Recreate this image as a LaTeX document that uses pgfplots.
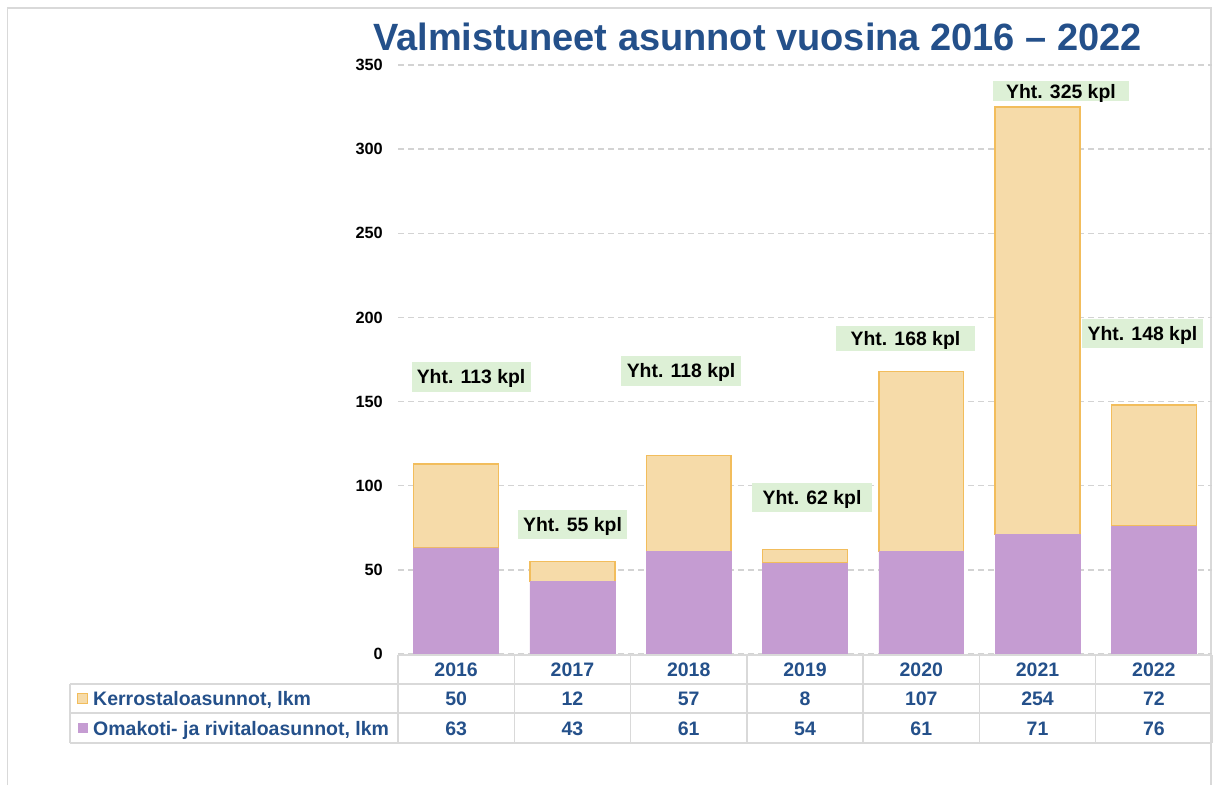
\documentclass[border=0pt]{standalone}
\usepackage{pgfplots}
\pgfplotsset{compat=1.18}
\usepackage{fontspec}
\setmainfont{Liberation Sans}
\definecolor{tblue}{HTML}{24508A}
\definecolor{purp}{HTML}{C59CD2}
\definecolor{tanf}{HTML}{F6DBA9}
\definecolor{orangeb}{HTML}{F2BD5C}
\definecolor{lgreen}{HTML}{DDF0D6}
\definecolor{gridgray}{HTML}{D3D3D3}
\definecolor{framegray}{HTML}{D9D9D9}
\begin{document}
\begin{tikzpicture}[x=1pt,y=1pt,
  lab/.style={fill=lgreen, inner sep=0pt, text height=13.9pt, text depth=0pt,
    font=\fontsize{19.4}{22}\selectfont\bfseries, text=black}]
\useasboundingbox (0,0) rectangle (1216,785);
% outer frame
\draw[framegray, line width=1.5pt] (7.5,0) -- (7.5,777) -- (1211,777) -- (1211,0);
% title
\node[anchor=base, text=tblue, font=\fontsize{38}{44}\selectfont\bfseries] at (757.5,734.4)
  {Valmistuneet asunnot vuosina 2016 – 2022};
\begin{axis}[
  at={(398pt,131pt)}, anchor=south west,
  scale only axis, width=814pt, height=589pt,
  xmin=-0.5, xmax=6.5, ymin=0, ymax=350,
  ybar stacked, bar width=0.73,
  axis line style={draw=none},
  major tick length=0pt,
  xtick={0,...,6},
  xticklabels={{2016\\50\\63},{2017\\12\\43},{2018\\57\\61},{2019\\8\\54},{2020\\107\\61},{2021\\254\\71},{2022\\72\\76}},
  ytick={0,50,...,350},
  ymajorgrids,
  grid style={gridgray, dash pattern=on 6pt off 4pt, line width=1.3pt},
  /pgf/number format/assume math mode=true,
  yticklabel style={font=\fontsize{16.3}{18}\selectfont\bfseries, text=black, anchor=east, inner sep=0pt, xshift=-15pt},
  xticklabel style={font=\fontsize{19.5}{29.3}\selectfont\bfseries, text=tblue, align=center, anchor=north, inner sep=0pt, yshift=-8.6pt},
  clip=false,
]
\addplot[fill=purp, draw=purp, line width=0.5pt] coordinates {(0,63) (1,43) (2,61) (3,54) (4,61) (5,71) (6,76)};
\addplot[fill=tanf, draw=orangeb, line width=1.5pt] coordinates {(0,50) (1,12) (2,57) (3,8) (4,107) (5,254) (6,72)};
\node[lab, minimum width=119pt, minimum height=30pt] at (axis cs:0.128,164.6) {Yht. 113 kpl};
\node[lab, minimum width=109pt, minimum height=29pt] at (axis cs:1.001,76.9) {Yht. 55 kpl};
\node[lab, minimum width=120pt, minimum height=30pt] at (axis cs:1.934,168.2) {Yht. 118 kpl};
\node[lab, minimum width=120pt, minimum height=29pt] at (axis cs:3.060,93.0) {Yht. 62 kpl};
\node[lab, minimum width=139pt, minimum height=25pt] at (axis cs:3.864,187.5) {Yht. 168 kpl};
\node[lab, minimum width=136pt, minimum height=20pt] at (axis cs:5.201,334.5) {Yht. 325 kpl};
\node[lab, minimum width=121pt, minimum height=29pt] at (axis cs:5.902,190.4) {Yht. 148 kpl};
\end{axis}
% data table grid
\begin{scope}[framegray, line width=1.5pt]
\draw (398,130) -- (1212,130);
\draw (70,101) -- (1212,101);
\draw (70,72) -- (1212,72);
\draw (70,42) -- (1212,42);
\draw (70,101) -- (70,42);
\foreach \k in {0,...,7} { \draw ({398+116.286*\k},130) -- ({398+116.286*\k},42); }
\end{scope}
% legend
\draw[orangeb, fill=tanf, line width=1pt] (77.5,81.5) rectangle (87.5,91.5);
\fill[purp] (78,52) rectangle (88,62);
\node[anchor=base west, inner sep=0pt, text=tblue, font=\fontsize{19.5}{22}\selectfont\bfseries] at (93,79.5) {Kerrostaloasunnot, lkm};
\node[anchor=base west, inner sep=0pt, text=tblue, font=\fontsize{19.5}{22}\selectfont\bfseries] at (93,50) {Omakoti- ja rivitaloasunnot, lkm};
\end{tikzpicture}
\end{document}
